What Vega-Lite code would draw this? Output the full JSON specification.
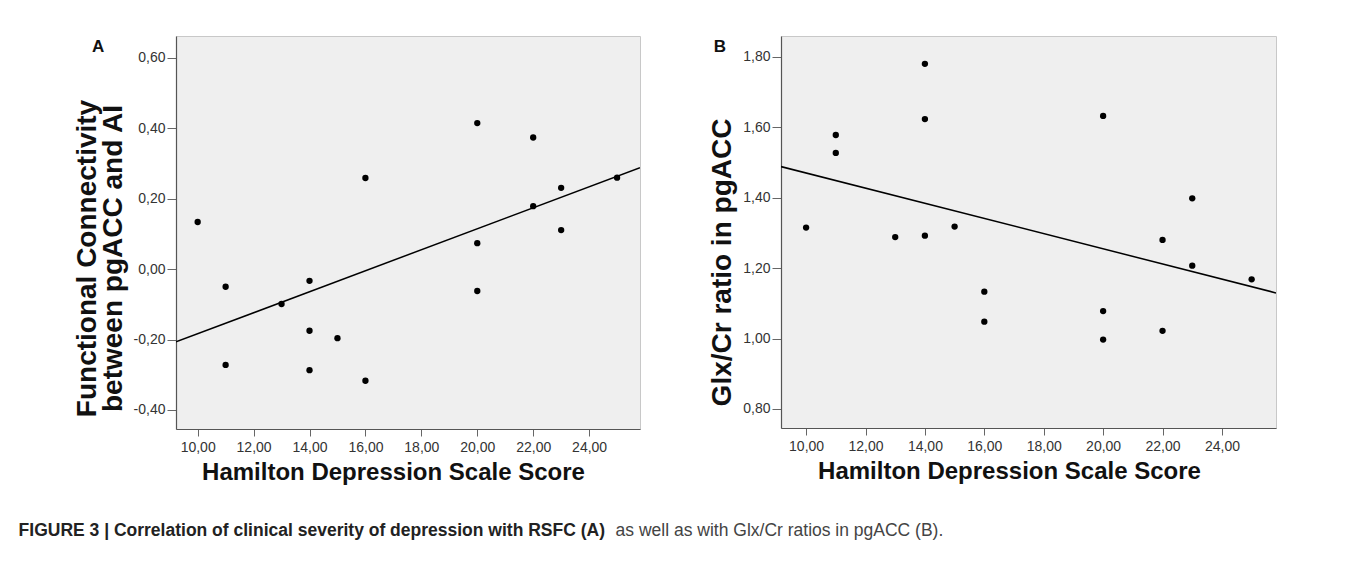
{
  "$schema": "https://vega.github.io/schema/vega-lite/v6.json",
  "padding": {"left": 18, "top": 35, "right": 0, "bottom": 0},
  "background": "white",
  "datasets": {
    "A": [
      {"score": 10, "fc": 0.134},
      {"score": 11, "fc": -0.050},
      {"score": 11, "fc": -0.272},
      {"score": 13, "fc": -0.099},
      {"score": 14, "fc": -0.033},
      {"score": 14, "fc": -0.175},
      {"score": 14, "fc": -0.287},
      {"score": 15, "fc": -0.196},
      {"score": 16, "fc": 0.259},
      {"score": 16, "fc": -0.317},
      {"score": 20, "fc": 0.415},
      {"score": 20, "fc": 0.074},
      {"score": 20, "fc": -0.062},
      {"score": 22, "fc": 0.374},
      {"score": 22, "fc": 0.179},
      {"score": 23, "fc": 0.231},
      {"score": 23, "fc": 0.111},
      {"score": 25, "fc": 0.260}
    ],
    "B": [
      {"score": 10, "glx": 1.315},
      {"score": 11, "glx": 1.578},
      {"score": 11, "glx": 1.527},
      {"score": 13, "glx": 1.288},
      {"score": 14, "glx": 1.780},
      {"score": 14, "glx": 1.623},
      {"score": 14, "glx": 1.292},
      {"score": 15, "glx": 1.318},
      {"score": 16, "glx": 1.133},
      {"score": 16, "glx": 1.048},
      {"score": 20, "glx": 1.632},
      {"score": 20, "glx": 1.078},
      {"score": 20, "glx": 0.997},
      {"score": 22, "glx": 1.280},
      {"score": 22, "glx": 1.022},
      {"score": 23, "glx": 1.398},
      {"score": 23, "glx": 1.207},
      {"score": 25, "glx": 1.168}
    ]
  },
  "title": {
    "text": "as well as with Glx/Cr ratios in pgACC (B).",
    "orient": "bottom",
    "anchor": "start",
    "frame": "bounds",
    "offset": -17,
    "dx": 597,
    "font": "Liberation Sans",
    "fontSize": 17.5,
    "fontWeight": "normal",
    "color": "#444444"
  },
  "vconcat": [
    {
      "title": {
        "text": "FIGURE 3 | Correlation of clinical severity of depression with RSFC (A)",
        "orient": "bottom",
        "anchor": "start",
        "frame": "bounds",
        "offset": 37,
        "dx": -54,
        "font": "Liberation Sans",
        "fontSize": 17.5,
        "fontWeight": "bold",
        "color": "#222222"
      },
      "hconcat": [
        {
          "width": 464,
          "height": 393,
          "title": {"text": "A", "anchor": "start", "frame": "bounds", "offset": -20, "dx": 19, "font": "Liberation Sans", "fontSize": 17, "fontWeight": "bold", "color": "#111111"},
          "data": {"name": "A"},
          "layer": [
            {
              "mark": {"type": "point", "filled": true, "color": "black", "size": 40, "opacity": 1},
              "encoding": {
                "x": {
                  "field": "score", "type": "quantitative",
                  "scale": {"domain": [9.225, 25.82], "nice": false, "zero": false},
                  "axis": {
                    "title": "Hamilton Depression Scale Score",
                    "values": [10, 12, 14, 16, 18, 20, 22, 24],
                    "labelExpr": "replace(format(datum.value, '.2f'), '.', ',')",
                    "titleX": 217
                  }
                },
                "y": {
                  "field": "fc", "type": "quantitative",
                  "scale": {"domain": [-0.454, 0.6624], "nice": false, "zero": false},
                  "axis": {
                    "title": ["Functional Connectivity", "between pgACC and AI"],
                    "values": [-0.4, -0.2, 0, 0.2, 0.4, 0.6],
                    "labelExpr": "(datum.value < 0 ? '-' : '') + replace(format(abs(datum.value), '.2f'), '.', ',')",
                    "titleY": 222,
                    "titleFontSize": 28,
                    "titleLineHeight": 26
                  }
                }
              }
            },
            {
              "transform": [{"regression": "fc", "on": "score", "extent": [9.225, 25.82]}],
              "mark": {"type": "line", "color": "black", "strokeWidth": 1.5, "clip": true},
              "encoding": {
                "x": {"field": "score", "type": "quantitative"},
                "y": {"field": "fc", "type": "quantitative"}
              }
            }
          ]
        },
        {
          "width": 495,
          "height": 392,
          "title": {"text": "B", "anchor": "start", "frame": "bounds", "offset": -20, "dx": 5, "font": "Liberation Sans", "fontSize": 17, "fontWeight": "bold", "color": "#111111"},
          "data": {"name": "B"},
          "layer": [
            {
              "mark": {"type": "point", "filled": true, "color": "black", "size": 40, "opacity": 1},
              "encoding": {
                "x": {
                  "field": "score", "type": "quantitative",
                  "scale": {"domain": [9.155, 25.82], "nice": false, "zero": false},
                  "axis": {
                    "title": "Hamilton Depression Scale Score",
                    "values": [10, 12, 14, 16, 18, 20, 22, 24],
                    "labelExpr": "replace(format(datum.value, '.2f'), '.', ',')",
                    "titleX": 228
                  }
                },
                "y": {
                  "field": "glx", "type": "quantitative",
                  "scale": {"domain": [0.746, 1.859], "nice": false, "zero": false},
                  "axis": {
                    "title": "Glx/Cr ratio in pgACC",
                    "values": [0.8, 1.0, 1.2, 1.4, 1.6, 1.8],
                    "labelExpr": "replace(format(datum.value, '.2f'), '.', ',')",
                    "titleY": 226,
                    "titleFontSize": 28
                  }
                }
              }
            },
            {
              "transform": [{"regression": "glx", "on": "score", "extent": [9.155, 25.82]}],
              "mark": {"type": "line", "color": "black", "strokeWidth": 1.5, "clip": true},
              "encoding": {
                "x": {"field": "score", "type": "quantitative"},
                "y": {"field": "glx", "type": "quantitative"}
              }
            }
          ]
        }
      ],
      "spacing": 67
    }
  ],
  "config": {
    "view": {"fill": "#efefef", "stroke": "#c8c8c8", "strokeWidth": 1},
    "axis": {
      "grid": false,
      "domainColor": "#555555",
      "domainWidth": 1.2,
      "tickColor": "#666666",
      "labelFont": "Liberation Sans",
      "labelFontSize": 14,
      "labelColor": "#333333",
      "titleFont": "Liberation Sans",
      "titleFontWeight": "bold",
      "titleColor": "#111111"
    },
    "axisX": {"tickSize": 7, "labelPadding": 4, "titleFontSize": 24, "titlePadding": 6, "labelFlush": false},
    "axisY": {"tickSize": 9, "labelPadding": 2, "titlePadding": 6, "labelFlush": false}
  }
}
